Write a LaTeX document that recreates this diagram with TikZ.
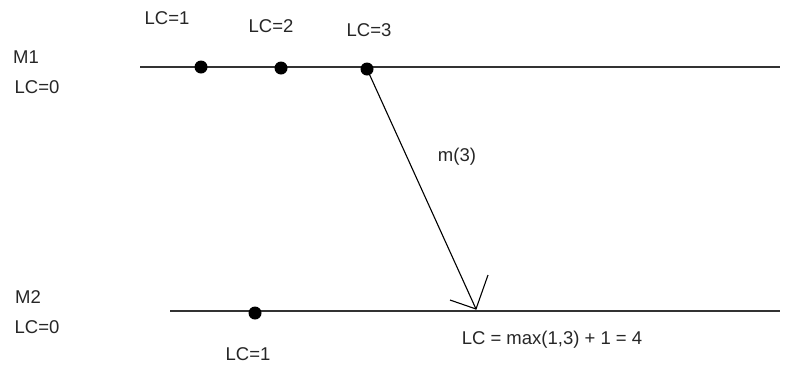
\documentclass[tikz,border=0pt]{standalone}
\usepackage{fontspec}
\setmainfont{Liberation Sans}
\begin{document}
\begin{tikzpicture}[x=1pt,y=-1pt,
  lbl/.style={inner sep=0pt,font=\fontsize{18.5}{20}\selectfont,text=black!85},
  evt/.style={circle,fill=black,inner sep=0pt,minimum size=13pt},
  line/.style={line width=1.8pt,draw=black!80},
  msg/.style={line width=1.1pt,draw=black}]
\useasboundingbox (0,0) rectangle (794,365);
% process lines
\coordinate (m1s) at (140,67);
\coordinate (m1e) at (780,67);
\coordinate (m2s) at (170,311);
\coordinate (m2e) at (780,311);
\draw[line] (m1s) -- (m1e);
\draw[line] (m2s) -- (m2e);
% events
\node[evt] (e1) at (201,67) {};
\node[evt] (e2) at (281,68) {};
\node[evt] (e3) at (367,69) {};
\node[evt] (f1) at (255,313) {};
% labels
\node[lbl] (l1) at (167,18) {LC=1};
\node[lbl] (l2) at (271,26) {LC=2};
\node[lbl] (l3) at (369,30) {LC=3};
\node[lbl] (m1) at (26,57) {M1};
\node[lbl] (m1lc) at (37,87) {LC=0};
\node[lbl] (m2) at (28,297) {M2};
\node[lbl] (m2lc) at (37,327) {LC=0};
\node[lbl] (k1) at (248,354) {LC=1};
\node[lbl] (res) at (552,340) {LC = max(1,3) + 1 = 4};
\node[lbl] (mt) at (457,157) {m(3)};
% message
\coordinate (tip) at (476,309);
\coordinate (b1) at (450,300);
\coordinate (b2) at (488,275);
\draw[msg] (e3.center) -- (tip);
\draw[msg] (b1) -- (tip) -- (b2);
\end{tikzpicture}
\end{document}
